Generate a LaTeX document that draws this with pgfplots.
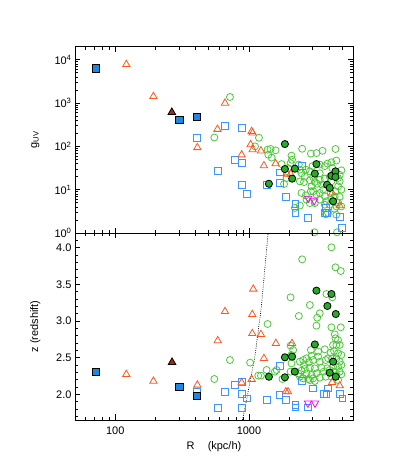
\documentclass[border=0pt]{standalone}
\usepackage{pgfplots}
\pgfplotsset{compat=1.18}
\usepackage{fontspec}
\setmainfont{Liberation Sans}
\definecolor{cgreen}{RGB}{75,200,55}
\definecolor{cblue}{RGB}{60,150,255}
\definecolor{corange}{RGB}{255,85,30}
\definecolor{cgreenF}{RGB}{40,170,40}
\definecolor{cblueF}{RGB}{30,135,230}
\definecolor{ctriF}{RGB}{170,40,15}
\definecolor{cmag}{RGB}{255,0,255}
\pgfplotsset{
  gopen/.style={only marks, mark=o, mark size=3.5bp, draw=cgreen, mark options={line width=0.8bp, draw=cgreen}},
  gfill/.style={only marks, mark=*, mark size=3.6bp, mark options={line width=0.8bp, draw=black, fill=cgreenF}},
  bopen/.style={only marks, mark=square, mark size=3.4bp, draw=cblue, mark options={line width=0.9bp, draw=cblue}},
  bfill/.style={only marks, mark=square*, mark size=3.6bp, mark options={line width=0.9bp, draw=black, fill=cblueF}},
  otri/.style={only marks, mark=triangle, mark size=4.2bp, draw=corange, mark options={line width=0.8bp, draw=corange}},
  ftri/.style={only marks, mark=triangle*, mark size=4.4bp, mark options={line width=0.8bp, draw=black, fill=ctriF}},
  mtri/.style={only marks, mark=triangle, mark size=4.2bp, draw=cmag, mark options={line width=0.8bp, draw=cmag, rotate=180}},
}
\begin{document}
\begin{tikzpicture}
\path[use as bounding box] (0bp,0bp) rectangle (415bp,467bp);
% ---------------- top panel ----------------
\begin{axis}[xmode=log, ymode=log,
  scale only axis, width=278bp, height=186.3bp,
  at={(75bp,420.3bp)}, anchor=north west,
  xmin=50, xmax=6000, ymin=1, ymax=2e4,
  clip=false, axis line style={black, line width=0.8bp},
  tick align=inside, major tick length=5.5bp, minor tick length=3bp,
  every tick/.style={black, line width=0.6bp},
  xtick={100,1000},
  minor xtick={50,60,70,80,90,200,300,400,500,600,700,800,900,2000,3000,4000,5000,6000},
  tick label style={font=\fontsize{11}{13}\selectfont},
  label style={font=\fontsize{11}{13}\selectfont},
  yticklabel pos=left,
  xticklabels={},
  ytick={1,10,100,1000,10000},
  yticklabels={10\textsuperscript{0},10\textsuperscript{1},10\textsuperscript{2},10\textsuperscript{3},10\textsuperscript{4}},
  minor ytick={2,3,4,5,6,7,8,9,20,30,40,50,60,70,80,90,200,300,400,500,600,700,800,900,2000,3000,4000,5000,6000,7000,8000,9000,20000},
  ylabel={g\textsubscript{UV}},
  ylabel style={at={(axis description cs:-0.143,0.5)}, anchor=center},
]
\addplot[gopen] coordinates {
(721,1380)(551,160)(1188,158)(1110,100)(1378,84)(1451,87)(1582,81)(1395,64)(1480,55)
(2500,88)(2904,68)(3198,70)(3550,79)(4437,87)(2080,61)(2100,49)(1755,39)(2047,41)
(2360,38)(2985,35)(3386,38)(3865,40)(4137,43)(4507,47)(3690,35)(4200,31.5)(4911,28)
(4772,22)(2661,29)(2853,26.5)(2472,24)(2618,20)(3021,19.5)(3386,24)(2853,16.5)
(3108,15)(3386,17)(3690,18)(2403,15.6)(2580,15)(3240,13.7)(3530,13)(4772,15.6)
(4911,10)(4638,11.9)(4437,9.2)(4080,8.4)(3586,10)(2935,11.9)(2904,9.2)(3198,7.7)
(2472,8.4)(2660,7.4)(3690,7.0)(3797,5.4)(4380,7.0)(4772,6.8)(4911,4.1)(4507,4.1)
(3690,4.5)(4020,4.5)(2853,4.9)(3108,4.9)(2205,3.8)(2403,4.3)(4507,2.65)(3907,2.9)
(4380,3.6)(3086,1.04)(4560,1.04)(1910,18.6)(1830,13.5)(1965,31.5)(2403,29)(4020,20)
(4137,15.6)(4638,18.6)(3021,9.2)(3386,8.4)(2694,5.9)(3386,5.9)(4137,5.9)(4638,5.1)
(3760,2.7)
};
\addplot[bopen] coordinates {
(411,156)(665,301)(590,26.7)(787,48)(882,265)(891,42)(882,13)(971,7.9)(1355,12.6)
(1703,25)(1703,14.3)(1880,6.8)(2230,4.7)(2230,2.9)(2500,34.6)(2773,2.2)(3760,3.8)
(3700,2.9)(3850,2.9)(4775,2.3)(4960,1.3)
};
\addplot[otri] coordinates {
(121,7800)(193,1426)(411,94)(581,248)(662,1000)(882,64)(1029,110)(1047,222)(1065,204)
(1065,84)(1229,79)(1294,36)(1582,40)(1930,23)(2050,23)(4190,8.4)(4772,4.3)
};
\addplot[mtri] coordinates {(2773,6.3)(3070,5.5)};
\addplot[gfill] coordinates {
(1857,113)(1410,13.7)(1857,30)(2205,30.5)(2105,18)(3198,39)(3108,23.4)(4137,21)
(4437,26.5)(4437,19.6)(3840,13)(4020,11)(4257,5.4)
};
\addplot[bfill] coordinates {(72,6300)(302,415)(411,486)};
\addplot[ftri] coordinates {(265,611)};
\end{axis}
% ---------------- bottom panel ----------------
\begin{axis}[xmode=log,
  scale only axis, width=278bp, height=187bp,
  at={(75bp,47bp)}, anchor=south west,
  xmin=50, xmax=6000, ymin=1.65, ymax=4.2,
  clip=false, axis line style={black, line width=0.8bp},
  tick align=inside, major tick length=5.5bp, minor tick length=3bp,
  every tick/.style={black, line width=0.6bp},
  xtick={100,1000},
  minor xtick={50,60,70,80,90,200,300,400,500,600,700,800,900,2000,3000,4000,5000,6000},
  tick label style={font=\fontsize{11}{13}\selectfont},
  label style={font=\fontsize{11}{13}\selectfont},
  yticklabel pos=left, xticklabel pos=lower,
  xticklabels={100,1000},
  xticklabel style={yshift=-3bp},
  ytick={2.0,2.5,3.0,3.5,4.0},
  yticklabels={2.0,2.5,3.0,3.5,4.0},
  minor ytick={1.7,1.8,1.9,2.1,2.2,2.3,2.4,2.6,2.7,2.8,2.9,3.1,3.2,3.3,3.4,3.6,3.7,3.8,3.9,4.1},
  ylabel={z (redshift)},
  ylabel style={at={(axis description cs:-0.143,0.5)}, anchor=center},
  xlabel={R\hspace{1.2em}(kpc/h)},
  xlabel style={at={(axis description cs:0.5,-0.145)}, anchor=center},
]
\addplot[black, line width=0.7bp, dash pattern=on 0.8bp off 1.4bp] coordinates {
(893,1.65)(902,1.677)(1103,2.495)(1235,3.177)(1386,4.173)(1395,4.2)
};
\addplot[gopen] coordinates {
(4137,4.005)(2500,3.841)(4437,3.732)(4860,3.682)(2047,3.323)(3797,3.368)(4200,3.323)
(2853,3.218)(3386,3.105)(3240,3.045)(2360,3.068)(3198,2.936)(4137,2.914)(4860,2.914)
(4380,2.818)(1378,2.959)(2047,2.664)(4437,2.764)(4638,2.741)(4257,2.673)(4507,2.673)
(4772,2.673)(721,2.468)(551,2.209)(1020,2.432)(1355,2.332)(1174,2.255)(1229,2.255)
(1610,2.332)(1563,2.309)(1780,2.209)(2047,2.309)(2080,2.423)(2140,2.605)(2080,2.536)
(2904,2.605)(3291,2.582)(3690,2.614)(4080,2.568)(4330,2.591)(4638,2.559)(4911,2.536)
(3907,2.491)(3291,2.514)(2935,2.523)(2694,2.491)(2544,2.468)(2403,2.445)(2580,2.4)
(2805,2.436)(3021,2.468)(3386,2.445)(3750,2.468)(4200,2.491)(4507,2.491)(4772,2.445)
(4911,2.4)(4638,2.377)(4257,2.377)(3865,2.355)(3484,2.364)(3108,2.355)(2853,2.364)
(2618,2.345)(2472,2.323)(2335,2.286)(2694,2.286)(2935,2.264)(3198,2.286)(3630,2.309)
(4020,2.332)(4380,2.309)(4772,2.309)(4911,2.273)(4507,2.264)(4137,2.241)(3750,2.241)
(3386,2.227)(3021,2.218)(2772,2.209)(2544,2.218)(2403,2.241)(2853,2.195)(3108,2.182)
(4638,2.195)
};
\addplot[bopen] coordinates {
(411,2.035)(590,1.817)(665,2.035)(787,2.125)(882,1.818)(882,2.173)(891,2.0)(971,1.945)
(1355,1.92)(1703,2.386)(1690,1.99)(1880,1.92)(2230,1.855)(2230,1.82)(2500,2.18)
(2773,1.82)(3020,2.08)(3650,2.01)(3800,2.01)(3900,2.08)(4775,2.0)(5000,1.945)
};
\addplot[otri] coordinates {
(121,2.273)(193,2.18)(411,2.127)(584,2.732)(662,3.13)(882,2.16)(1047,2.205)(1077,3.436)
(1059,3.09)(1059,2.83)(1229,2.818)(1590,2.695)(2100,2.695)(1294,2.49)(1890,2.036)
(1960,2.036)(4190,2.164)(4775,2.118)
};
\addplot[mtri] coordinates {(2760,1.88)(3120,1.88)};
\addplot[gfill] coordinates {
(3198,3.414)(4137,3.368)(3860,3.205)(4460,3.095)(3110,2.68)(4260,2.445)(1857,2.505)
(2100,2.514)(2200,2.31)(1410,2.24)(1857,2.232)(4020,2.295)(4460,2.24)
};
\addplot[bfill] coordinates {(72,2.30)(302,2.104)(411,1.98)};
\addplot[ftri] coordinates {(266,2.437)};
\end{axis}
\end{tikzpicture}
\end{document}
